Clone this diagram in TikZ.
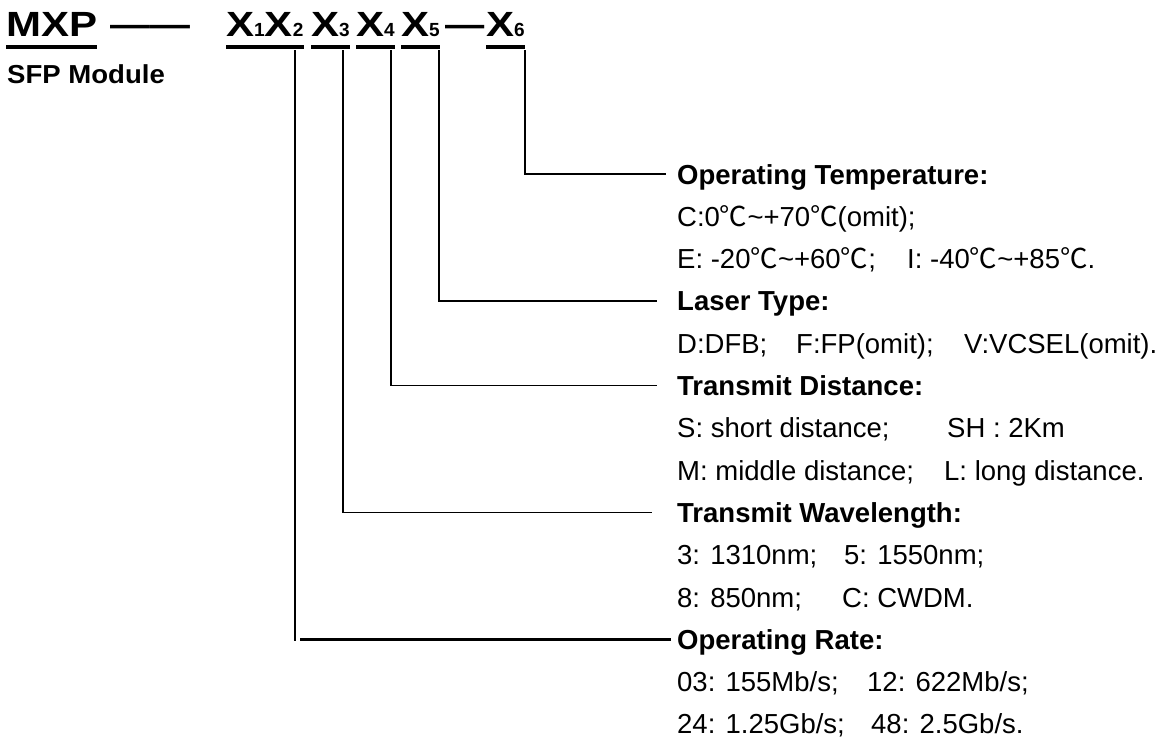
\documentclass[tikz,border=0pt]{standalone}
\usepackage{fontspec}
\setmainfont{Liberation Sans}
\newfontfamily\cjkf{Noto Sans CJK SC}
\newcommand\degC{{\cjkf ℃}}
\newcommand\bodyt[1]{\scalebox{1.0}[1]{\fontsize{27.5}{32}\selectfont #1}}
\newcommand\headt[1]{\scalebox{1.0}[1]{\fontsize{27.5}{32}\selectfont\bfseries #1}}
\newcommand\bigX[1]{\scalebox{1.2}[1]{\fontsize{35}{40}\selectfont\bfseries #1}}
\newcommand\subd[1]{{\fontsize{19}{22}\selectfont\bfseries #1}}
\begin{document}
\begin{tikzpicture}[x=1pt,y=-1pt,
  conn/.style={line width=1.6pt},
  connthick/.style={line width=2.5pt},
  ul/.style={line width=4pt},
  txt/.style={inner sep=0pt,anchor=base west}]
\useasboundingbox (0,0) rectangle (1163,742);

% product code
\node[txt] (mxp) at (6,36) {\bigX{MXP}};
\node[txt] (sfp) at (7,83) {\scalebox{1.06}[1]{\fontsize{26}{30}\selectfont\bfseries SFP Module}};
\node[txt] (dashA) at (110,36) {\scalebox{1.14}[1]{\fontsize{35}{40}\selectfont\bfseries ——}};
\node[txt] (x12) at (226,36) {\bigX{X}\subd{1}\bigX{X}\subd{2}};
\node[txt] (x3) at (311,36) {\bigX{X}\subd{3}};
\node[txt] (x4) at (356,36) {\bigX{X}\subd{4}};
\node[txt] (x5) at (401,36) {\bigX{X}\subd{5}};
\node[txt] (dashB) at (445,36) {\scalebox{1.12}[1]{\fontsize{35}{40}\selectfont\bfseries —}};
\node[txt] (x6) at (486,36) {\bigX{X}\subd{6}};

\foreach \n in {mxp,x12,x3,x4,x5,x6}
  \draw[ul] ([yshift=-11pt]\n.base west) -- ([yshift=-11pt]\n.base east);

\coordinate (tX2) at (295,50);
\coordinate (tX3) at (343,50);
\coordinate (tX4) at (391,50);
\coordinate (tX5) at (439,50);
\coordinate (tX6) at (525,50);

% descriptions
\node[txt] (hdTemp) at (677,184) {\headt{Operating Temperature:}};
\node[txt] (t1) at (677,226.3) {\bodyt{C:0\degC\char`~+70\degC(omit);}};
\node[txt] (t2a) at (677,268.6) {\bodyt{E: -20\degC\char`~+60\degC;}};
\node[txt] (t2b) at (907,268.6) {\bodyt{I: -40\degC\char`~+85\degC.}};

\node[txt] (hdLaser) at (677,310.9) {\headt{Laser Type:}};
\node[txt] (l1a) at (677,353.2) {\bodyt{D:DFB;}};
\node[txt] (l1b) at (796,353.2) {\bodyt{F:FP(omit);}};
\node[txt] (l1c) at (964,353.2) {\bodyt{V:VCSEL(omit).}};

\node[txt] (hdDist) at (677,395.5) {\headt{Transmit Distance:}};
\node[txt] (d1a) at (677,437.8) {\bodyt{S: short distance;}};
\node[txt] (d1b) at (947,437.8) {\bodyt{SH : 2Km}};
\node[txt] (d2a) at (677,480.1) {\bodyt{M: middle distance;}};
\node[txt] (d2b) at (944,480.1) {\bodyt{L: long distance.}};

\node[txt] (hdWave) at (677,522.4) {\headt{Transmit Wavelength:}};
\node[txt] (w1a) at (677,564.7) {\bodyt{3: 1310nm;}};
\node[txt] (w1b) at (844,564.7) {\bodyt{5: 1550nm;}};
\node[txt] (w2a) at (677,607) {\bodyt{8: 850nm;}};
\node[txt] (w2b) at (842,607) {\bodyt{C: CWDM.}};

\node[txt] (hdRate) at (677,649.3) {\headt{Operating Rate:}};
\node[txt] (r1a) at (677,691.6) {\bodyt{03: 155Mb/s;}};
\node[txt] (r1b) at (867,691.6) {\bodyt{12: 622Mb/s;}};
\node[txt] (r2a) at (677,733.9) {\bodyt{24: 1.25Gb/s;}};
\node[txt] (r2b) at (871,733.9) {\bodyt{48: 2.5Gb/s.}};

% connectors
\draw[conn] (tX6) |- ([xshift=-11pt,yshift=10pt]hdTemp.base west);
\draw[conn] (tX5) |- ([xshift=-20pt,yshift=10pt]hdLaser.base west);
\draw[conn] (tX4) |- ([xshift=-20pt,yshift=10pt]hdDist.base west);
\draw[conn] (tX3) |- ([xshift=-25pt,yshift=10pt]hdWave.base west);
\coordinate (rateL) at ([xshift=-6pt,yshift=10pt]hdRate.base west);
\draw[conn] (tX2) -- ([yshift=-2pt]tX2 |- rateL);
\draw[connthick] ([xshift=5pt]tX2 |- rateL) -- (rateL);
\end{tikzpicture}
\end{document}
